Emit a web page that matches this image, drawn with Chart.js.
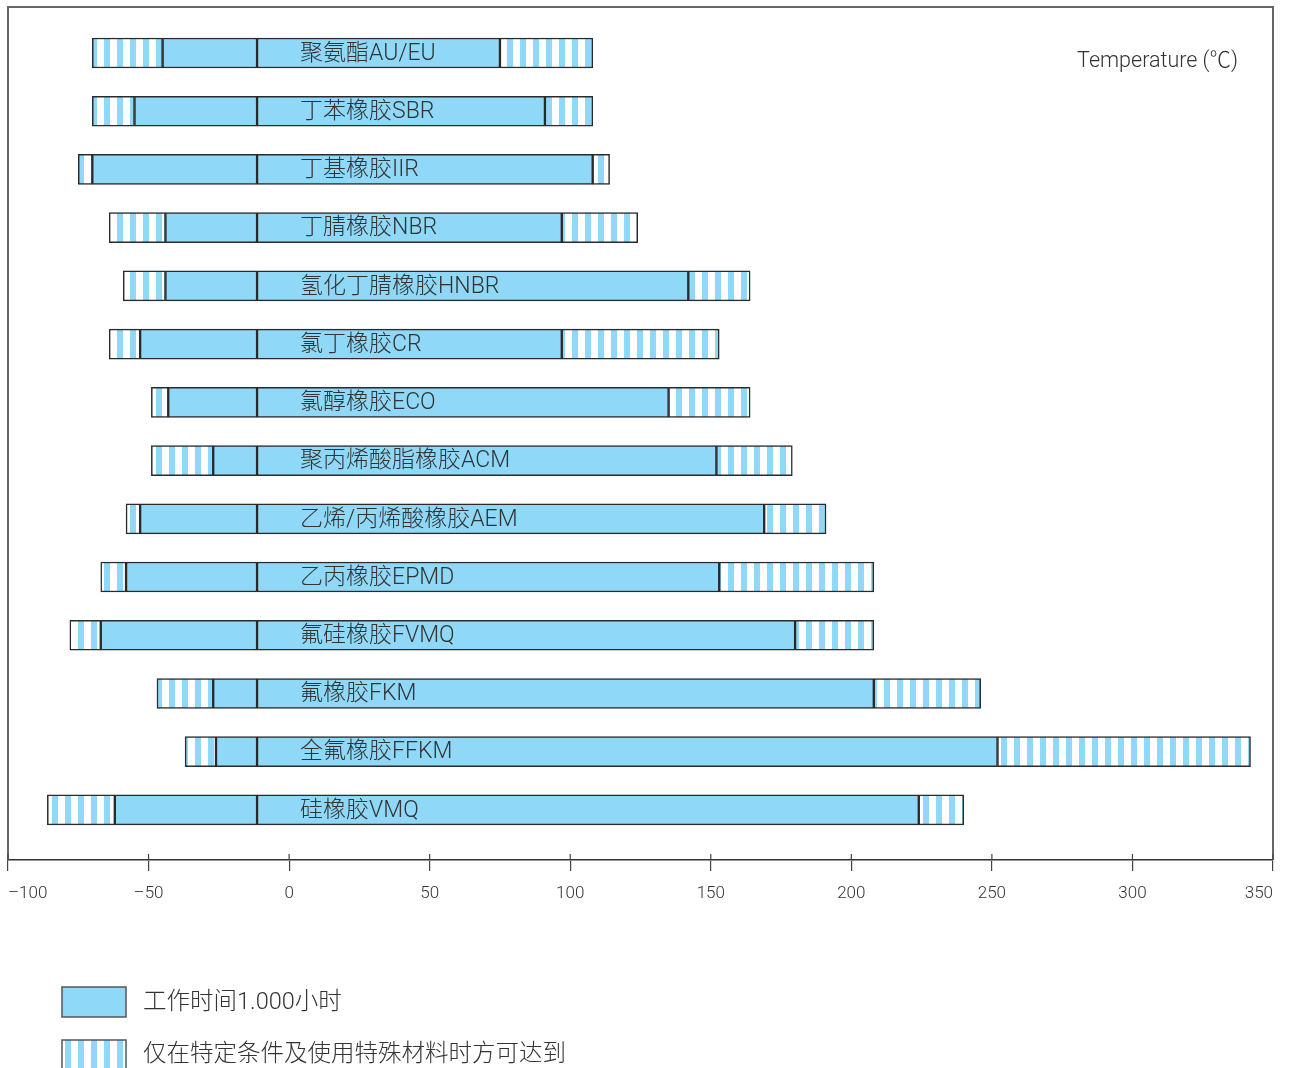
<!DOCTYPE html>
<html>
<head>
<meta charset="utf-8">
<script src="https://cdn.jsdelivr.net/npm/chart.js@4.4.1/dist/chart.umd.min.js"></script>
<style>
  html, body { margin: 0; padding: 0; background: #fff; }
  #wrap { width: 1297px; height: 1068px; position: relative; }
</style>
</head>
<body>
<div id="wrap"><canvas id="tempChart"></canvas></div>
<script>
// --- DATA ---
const categories = ['聚氨酯AU/EU', '丁苯橡胶SBR', '丁基橡胶IIR', '丁腈橡胶NBR', '氢化丁腈橡胶HNBR',
    '氯丁橡胶CR', '氯醇橡胶ECO', '聚丙烯酸脂橡胶ACM', '乙烯/丙烯酸橡胶AEM', '乙丙橡胶EPMD',
    '氟硅橡胶FVMQ', '氟橡胶FKM', '全氟橡胶FFKM', '硅橡胶VMQ'];
const specialMin = [-70, -70, -75, -64, -59, -64, -49, -49, -58, -67, -78, -47, -37, -86];
const normalMin  = [-45, -55, -70, -44, -44, -53, -43, -27, -53, -58, -67, -27, -26, -62];
const normalMax  = [75, 91, 108, 97, 142, 97, 135, 152, 169, 153, 180, 208, 252, 224];
const specialMax = [108, 108, 114, 124, 164, 153, 164, 179, 191, 208, 208, 246, 342, 240];
const labelEdge = -11.4; // divider line inside every bar
const xTicks = [-100, -50, 0, 50, 100, 150, 200, 250, 300, 350];
const legendLabels = ['工作时间1.000小时', '仅在特定条件及使用特殊材料时方可达到'];

const BLUE = '#8fd8f7';
const FONT = "Roboto, 'Noto Sans CJK SC', sans-serif";

// striped fill
function makeStripes() {
    const c = document.createElement('canvas');
    c.width = 13; c.height = 30;
    const g = c.getContext('2d');
    g.fillStyle = '#ffffff';
    g.fillRect(0, 0, 13, 30);
    g.fillStyle = BLUE;
    g.fillRect(0, 0, 6, 30);
    return g.createPattern(c, 'repeat');
}
const stripes = makeStripes();

const seg = (from, to) => categories.map((_, i) => ({ x: [from[i], to[i]], y: i }));
const constArr = v => categories.map(() => v);

const barStyle = {
    grouped: false,
    barThickness: 30,
    borderColor: '#2a2a2a',
    borderWidth: 1.5,
    borderSkipped: false
};

const decor = {
    id: 'decor',
    afterDraw(chart) {
        const { ctx, chartArea: a, scales: { x, y } } = chart;
        ctx.save();
        // frame round the plot
        ctx.strokeStyle = '#666';
        ctx.lineWidth = 2;
        ctx.beginPath();
        ctx.moveTo(a.left, a.bottom);
        ctx.lineTo(a.left, a.top);
        ctx.lineTo(a.right, a.top);
        ctx.lineTo(a.right, a.bottom);
        ctx.stroke();
        // small tick stubs above the axis
        ctx.strokeStyle = '#444';
        ctx.lineWidth = 1.2;
        ctx.beginPath();
        xTicks.forEach(v => {
            const px = x.getPixelForValue(v);
            ctx.moveTo(px, a.bottom - 6);
            ctx.lineTo(px, a.bottom);
        });
        ctx.stroke();
        // labels inside bars
        ctx.fillStyle = '#333';
        ctx.font = '300 23px ' + FONT;
        ctx.textBaseline = 'middle';
        ctx.textAlign = 'left';
        categories.forEach((c, i) => {
            ctx.fillText(c, x.getPixelForValue(labelEdge) + 43, y.getPixelForValue(i) + 1);
        });
        // unit label
        ctx.font = '300 21.5px ' + FONT;
        ctx.textAlign = 'right';
        ctx.fillText('Temperature (℃)', a.right - 35, 62);
        // legend
        ctx.font = '300 23.5px ' + FONT;
        ctx.textAlign = 'left';
        ctx.lineWidth = 1.5;
        ctx.strokeStyle = '#555';
        ctx.fillStyle = BLUE;
        ctx.fillRect(62, 987, 64, 30);
        ctx.strokeRect(62, 987, 64, 30);
        ctx.fillStyle = stripes;
        ctx.fillRect(62, 1040, 64, 34);
        ctx.strokeRect(62, 1040, 64, 34);
        ctx.fillStyle = '#333';
        ctx.fillText(legendLabels[0], 143, 1003);
        ctx.fillText(legendLabels[1], 143, 1055);
        ctx.restore();
    }
};

new Chart(document.getElementById('tempChart').getContext('2d'), {
    type: 'bar',
    data: {
        datasets: [
            { label: 'special low', data: seg(specialMin, normalMin), backgroundColor: stripes, ...barStyle },
            { label: 'normal low', data: seg(normalMin, constArr(labelEdge)), backgroundColor: BLUE, ...barStyle },
            { label: 'normal high', data: seg(constArr(labelEdge), normalMax), backgroundColor: BLUE, ...barStyle },
            { label: 'special high', data: seg(normalMax, specialMax), backgroundColor: stripes, ...barStyle }
        ]
    },
    options: {
        indexAxis: 'y',
        responsive: true,
        maintainAspectRatio: false,
        animation: false,
        layout: { padding: { left: 8, right: 24, top: 7, bottom: 0 } },
        plugins: {
            legend: { display: false },
            tooltip: { enabled: false }
        },
        scales: {
            y: {
                type: 'linear',
                reverse: true,
                offset: false,
                min: -0.79,
                max: 13.86,
                display: false
            },
            x: {
                type: 'linear',
                min: -100,
                max: 350,
                afterFit: s => { s.height = 208; s.paddingLeft = 0; s.paddingRight = 0; },
                afterBuildTicks: s => { s.ticks = xTicks.map(v => ({ value: v })); },
                ticks: {
                    align: 'inner',
                    padding: 13,
                    color: '#333',
                    font: { family: FONT, size: 17, weight: '300' },
                    callback: v => String(v).replace('-', '–')
                },
                grid: {
                    drawOnChartArea: false,
                    drawTicks: true,
                    tickLength: 11,
                    color: '#444',
                    lineWidth: 1.2
                },
                border: { display: true, color: '#333', width: 1.5 }
            }
        }
    },
    plugins: [decor]
});
</script>
</body>
</html>
